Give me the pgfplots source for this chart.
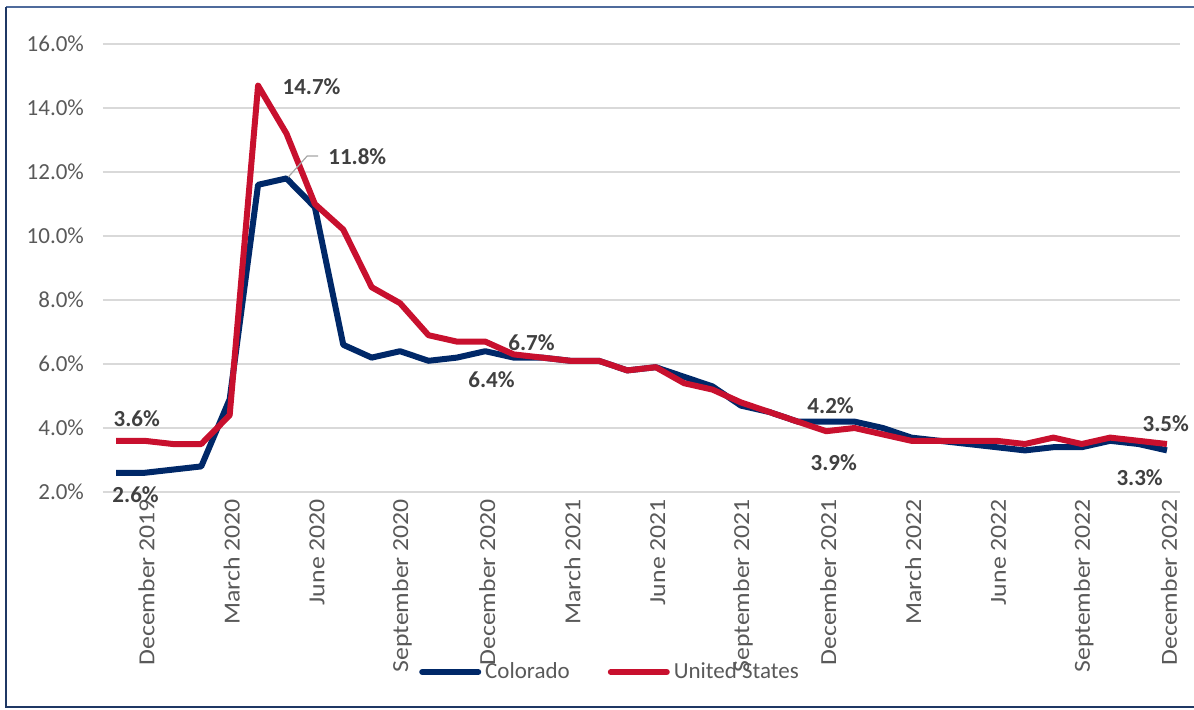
\documentclass[border=0pt]{standalone}
\usepackage{pgfplots}
\pgfplotsset{compat=1.18}
\usepackage{pgfplotstable}
\usepackage{fontspec}
\setmainfont{Carlito}
\newfontfamily\widefont[FakeStretch=1.12]{Carlito}

\definecolor{conavy}{RGB}{0,40,104}
\definecolor{usred}{RGB}{200,16,46}
\definecolor{gridgray}{RGB}{217,217,217}
\definecolor{ticktext}{RGB}{89,89,89}
\definecolor{labeltext}{RGB}{64,64,64}
\definecolor{framecol}{RGB}{31,56,100}
\definecolor{topline}{RGB}{79,107,156}

% monthly unemployment rate, Nov 2019 (0) to Dec 2022 (37)
\pgfplotstableread{
idx co us
0 2.6 3.6
1 2.6 3.6
2 2.7 3.5
3 2.8 3.5
4 4.9 4.4
5 11.6 14.7
6 11.8 13.2
7 10.9 11.0
8 6.6 10.2
9 6.2 8.4
10 6.4 7.9
11 6.1 6.9
12 6.2 6.7
13 6.4 6.7
14 6.2 6.3
15 6.2 6.2
16 6.1 6.1
17 6.1 6.1
18 5.8 5.8
19 5.9 5.9
20 5.6 5.4
21 5.3 5.2
22 4.7 4.8
23 4.5 4.5
24 4.2 4.2
25 4.2 3.9
26 4.2 4.0
27 4.0 3.8
28 3.7 3.6
29 3.6 3.6
30 3.5 3.6
31 3.4 3.6
32 3.3 3.5
33 3.4 3.7
34 3.4 3.5
35 3.6 3.7
36 3.5 3.6
37 3.3 3.5
}\rates

\begin{document}
\begin{tikzpicture}
\begin{axis}[
    at={(0,0)}, anchor=south west,
    scale only axis,
    width=538.5pt, height=224pt,
    xmin=-0.46, xmax=37.46,
    ymin=2, ymax=16,
    clip=false,
    axis line style={draw=none},
    major tick style={draw=none},
    ymajorgrids,
    grid style={gridgray, line width=1pt},
    ytick={2,4,...,16},
    yticklabels={2.0\%,4.0\%,6.0\%,8.0\%,10.0\%,12.0\%,14.0\%,16.0\%},
    xtick={1,4,...,37},
    xticklabels={December 2019,March 2020,June 2020,September 2020,December 2020,March 2021,June 2021,September 2021,December 2021,March 2022,June 2022,September 2022,December 2022},
    tick label style={font=\fontsize{11.5}{13}\selectfont, text=ticktext},
    yticklabel style={xshift=-6pt},
    xticklabel style={font=\widefont\fontsize{11.5}{13}\selectfont, rotate=90, anchor=east, yshift=-1pt},
    legend columns=2,
    legend style={at={(0.4717,0)}, anchor=center, yshift=-90pt, draw=none, fill=none,
        font=\fontsize{11.5}{13}\selectfont, text=ticktext,
        /tikz/every even column/.append style={column sep=17pt}},
    legend image code/.code={\draw[#1, line cap=round] (0pt,0pt) -- (28pt,0pt);},
    every axis plot/.append style={line width=3pt, line join=round},
]
\addplot[conavy] table[x=idx, y=co] {\rates};
\addlegendentry{Colorado}
\addplot[usred] table[x=idx, y=us] {\rates};
\addlegendentry{United States}

\draw[gray!70, line width=0.6pt] (axis cs:6.06,11.84) -- (axis cs:6.73,12.5) -- (axis cs:7.11,12.5);
\begin{scope}[every node/.style={font=\bfseries\fontsize{11.5}{13}\selectfont, text=labeltext, inner sep=0pt, anchor=west}]
\node at (axis cs:5.85,14.66) {14.7\%};
\node at (axis cs:7.46,12.47) {11.8\%};
\node at (axis cs:13.8,6.67) {6.7\%};
\node at (axis cs:12.39,5.52) {6.4\%};
\node at (axis cs:-0.1,4.30) {3.6\%};
\node at (axis cs:-0.14,1.92) {2.6\%};
\node at (axis cs:24.33,4.70) {4.2\%};
\node at (axis cs:24.44,2.92) {3.9\%};
\node at (axis cs:36.13,4.14) {3.5\%};
\node at (axis cs:35.21,2.45) {3.3\%};
\end{scope}
\end{axis}
\draw[topline, line width=1.2pt] (548pt,242.5pt) -- (-48.5pt,242.5pt);
\draw[framecol, line width=1.2pt] (-48.5pt,242.5pt) -- (-48.5pt,-107.5pt) -- (548pt,-107.5pt);
\pgfresetboundingbox
\path[use as bounding box] (-51.5pt,-108.5pt) rectangle (545.5pt,246pt);
\end{tikzpicture}
\end{document}
